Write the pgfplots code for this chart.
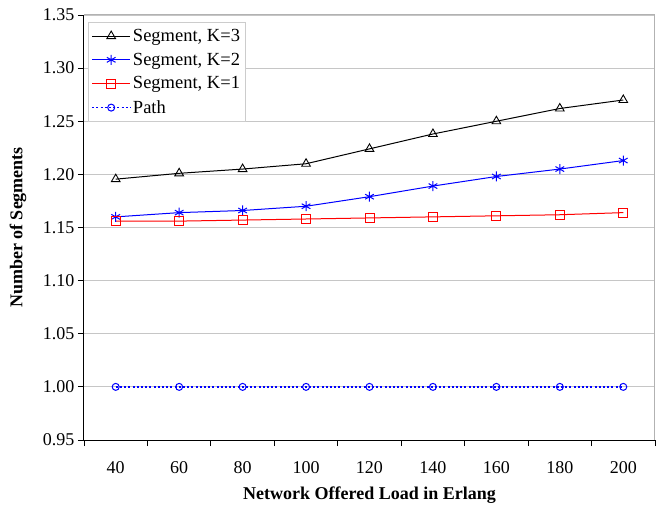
\documentclass[border=0pt]{standalone}
\usepackage{fontspec}
\setmainfont{Liberation Serif}
\usepackage{pgfplots}
\pgfplotsset{compat=1.18}
\begin{document}
\begin{tikzpicture}
\useasboundingbox (-84pt,-66pt) rectangle (574pt,440pt);
\begin{axis}[
  at={(0,0)}, anchor=south west,
  scale only axis, width=571pt, height=425pt,
  xmin=-0.5, xmax=8.5, ymin=0.95, ymax=1.35,
  axis x line*=bottom, axis y line*=left,
  axis line style={black, line width=1pt},
  xtick={0,...,8},
  xticklabels={40,60,80,100,120,140,160,180,200},
  major x tick style={draw=none},
  minor xtick={-0.5,0.5,...,8.5},
  minor x tick style={black, line width=0.8pt},
  minor tick length=6pt,
  xticklabel style={yshift=-12pt},
  ytick={0.95,1.00,...,1.36},
  major y tick style={black, line width=0.8pt},
  major tick length=6pt,
  tick align=outside,
  yticklabel style={/pgf/number format/.cd, fixed, fixed zerofill, precision=2},
  /pgf/number format/assume math mode=true,
  ymajorgrids, grid style={gray!45, line width=0.8pt},
  ticklabel style={font=\fontsize{18}{20}\selectfont},
  xlabel={\textbf{Network Offered Load in Erlang}},
  ylabel={\textbf{Number of Segments}},
  every axis x label/.style={at={([yshift=-55pt]axis description cs:0.5,0)}, anchor=center, font=\fontsize{18}{20}\selectfont},
  every axis y label/.style={at={([xshift=-66pt]axis description cs:0,0.5)}, anchor=center, rotate=90, font=\fontsize{18}{20}\selectfont},
  legend style={at={(0.007,0.984)}, anchor=north west, draw=gray!40, line width=0.8pt,
    font=\fontsize{18.5}{20}\selectfont, row sep=6pt, inner xsep=3pt, inner ysep=5pt,
    nodes={inner sep=2pt}},
  legend cell align=left,
  legend image code/.code={
    \draw[mark repeat=2,mark phase=2,#1] plot coordinates {(0pt,0pt) (19pt,0pt) (38pt,0pt)};
  },
  after end axis/.code={
    \draw[gray!60, line width=1pt] (rel axis cs:0,1) -- (rel axis cs:1,1) -- (rel axis cs:1,0);
  },
]
\addplot[black, line width=1pt, mark=triangle, mark size=5pt, mark options={fill=white, solid, line width=0.9pt}]
  coordinates {(0,1.1955) (1,1.201) (2,1.205) (3,1.210) (4,1.224) (5,1.238) (6,1.250) (7,1.262) (8,1.270)};
\addlegendentry{Segment, K=3}
\addplot[blue, line width=1pt, mark=asterisk, mark size=5pt, mark options={solid, line width=1pt}]
  coordinates {(0,1.160) (1,1.164) (2,1.166) (3,1.170) (4,1.179) (5,1.189) (6,1.198) (7,1.205) (8,1.213)};
\addlegendentry{Segment, K=2}
\addplot[red, line width=1pt, mark=square, mark size=4.5pt, mark options={fill=white, solid, line width=0.9pt}]
  coordinates {(0,1.156) (1,1.156) (2,1.157) (3,1.158) (4,1.159) (5,1.160) (6,1.161) (7,1.162) (8,1.164)};
\addlegendentry{Segment, K=1}
\addplot[blue, line width=1.6pt, dash pattern=on 2pt off 2.2pt, mark=o, mark size=3.5pt, mark options={fill=white, solid, line width=1pt}]
  coordinates {(0,1.00) (1,1.00) (2,1.00) (3,1.00) (4,1.00) (5,1.00) (6,1.00) (7,1.00) (8,1.00)};
\addlegendentry{Path}
\end{axis}
\end{tikzpicture}
\end{document}
